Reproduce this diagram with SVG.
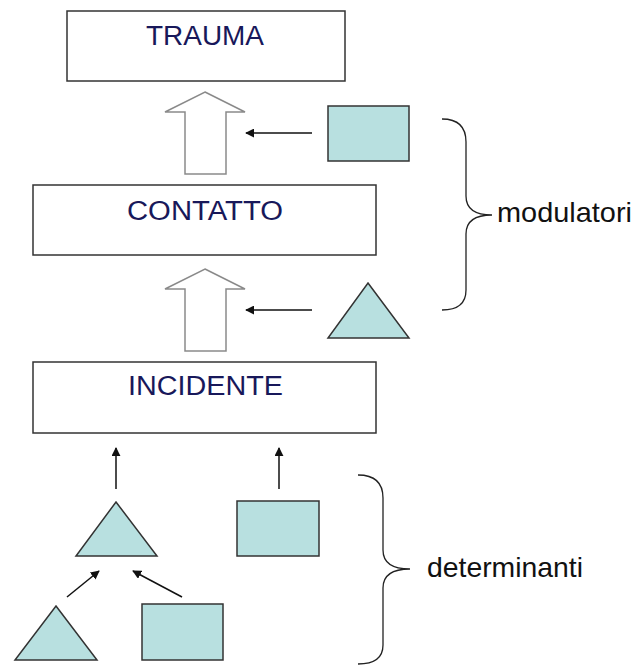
<svg xmlns="http://www.w3.org/2000/svg" width="636" height="666" viewBox="0 0 636 666">
  <defs>
    <style>
      .box { fill: #ffffff; stroke: #333333; stroke-width: 1.5; }
      .title { font-family: "Liberation Sans", Arial, sans-serif; font-size: 27px; fill: #18185a; text-anchor: middle; }
      .label { font-family: "Liberation Sans", Arial, sans-serif; font-size: 28px; fill: #111111; }
      .shape { fill: #b8e0e0; stroke: #333333; stroke-width: 1.5; }
      .hollow { fill: #ffffff; stroke: #8a8a8a; stroke-width: 1.5; }
      .conn { stroke: #111111; stroke-width: 1.5; fill: none; marker-end: url(#ah); }
      .brace { fill: none; stroke: #222222; stroke-width: 1.3; }
    </style>
    <marker id="ah" viewBox="0 0 10 10" refX="9" refY="5" markerWidth="9" markerHeight="9" markerUnits="userSpaceOnUse" orient="auto">
      <path d="M0,0 L10,5 L0,10 z" fill="#111111"/>
    </marker>
  </defs>
  <rect width="636" height="666" fill="#ffffff"/>

  <g id="trauma">
    <rect class="box" x="67" y="11" width="278" height="70"/>
    <text class="title" x="205" y="44.5" textLength="118" lengthAdjust="spacingAndGlyphs">TRAUMA</text>
  </g>
  <g id="contatto">
    <rect class="box" x="33" y="185" width="343" height="70"/>
    <text class="title" x="205" y="219.5" textLength="156" lengthAdjust="spacingAndGlyphs">CONTATTO</text>
  </g>
  <g id="incidente">
    <rect class="box" x="33" y="362" width="343" height="71"/>
    <text class="title" x="205.5" y="394.5" textLength="155" lengthAdjust="spacingAndGlyphs">INCIDENTE</text>
  </g>

  <g id="hollow-arrow-1">
    <polygon class="hollow" points="205,92 245,112 226,112 226,174 185,174 185,112 165,112"/>
  </g>
  <g id="hollow-arrow-2">
    <polygon class="hollow" points="205,269 245,289 226,289 226,351 185,351 185,289 165,289"/>
  </g>

  <g id="mod-rect">
    <rect class="shape" x="328" y="106" width="81" height="55"/>
  </g>
  <g id="mod-triangle">
    <polygon class="shape" points="368,283 409,338 328,338"/>
  </g>

  <g id="det-triangle-mid">
    <polygon class="shape" points="116,502 157,556 76,556"/>
  </g>
  <g id="det-rect-mid">
    <rect class="shape" x="237" y="501" width="82" height="55"/>
  </g>
  <g id="det-triangle-bottom">
    <polygon class="shape" points="56,606 97,660 15,660"/>
  </g>
  <g id="det-rect-bottom">
    <rect class="shape" x="142" y="604" width="81" height="56"/>
  </g>

  <g id="connectors">
    <line class="conn" x1="312" y1="133" x2="246" y2="133"/>
    <line class="conn" x1="312" y1="310" x2="246" y2="310"/>
    <line class="conn" x1="116" y1="489" x2="116" y2="448"/>
    <line class="conn" x1="279" y1="489" x2="279" y2="448"/>
    <line class="conn" x1="67" y1="597" x2="99" y2="571"/>
    <line class="conn" x1="182" y1="597" x2="133" y2="571"/>
  </g>

  <g id="brace-modulatori">
    <path class="brace" d="M442,119 C458,119 466,126 466,142 L466,196 C466,208 474,215 492,215 C474,215 466,222 466,234 L466,290 C466,304 458,310 442,310"/>
    <text class="label" x="497" y="222" textLength="135" lengthAdjust="spacingAndGlyphs">modulatori</text>
  </g>
  <g id="brace-determinanti">
    <path class="brace" d="M358,475 C374,475 383,482 383,498 L383,550 C383,562 392,569 410,569 C392,569 383,576 383,588 L383,645 C383,658 374,664 358,664"/>
    <text class="label" x="427" y="577" textLength="156" lengthAdjust="spacingAndGlyphs">determinanti</text>
  </g>
</svg>
